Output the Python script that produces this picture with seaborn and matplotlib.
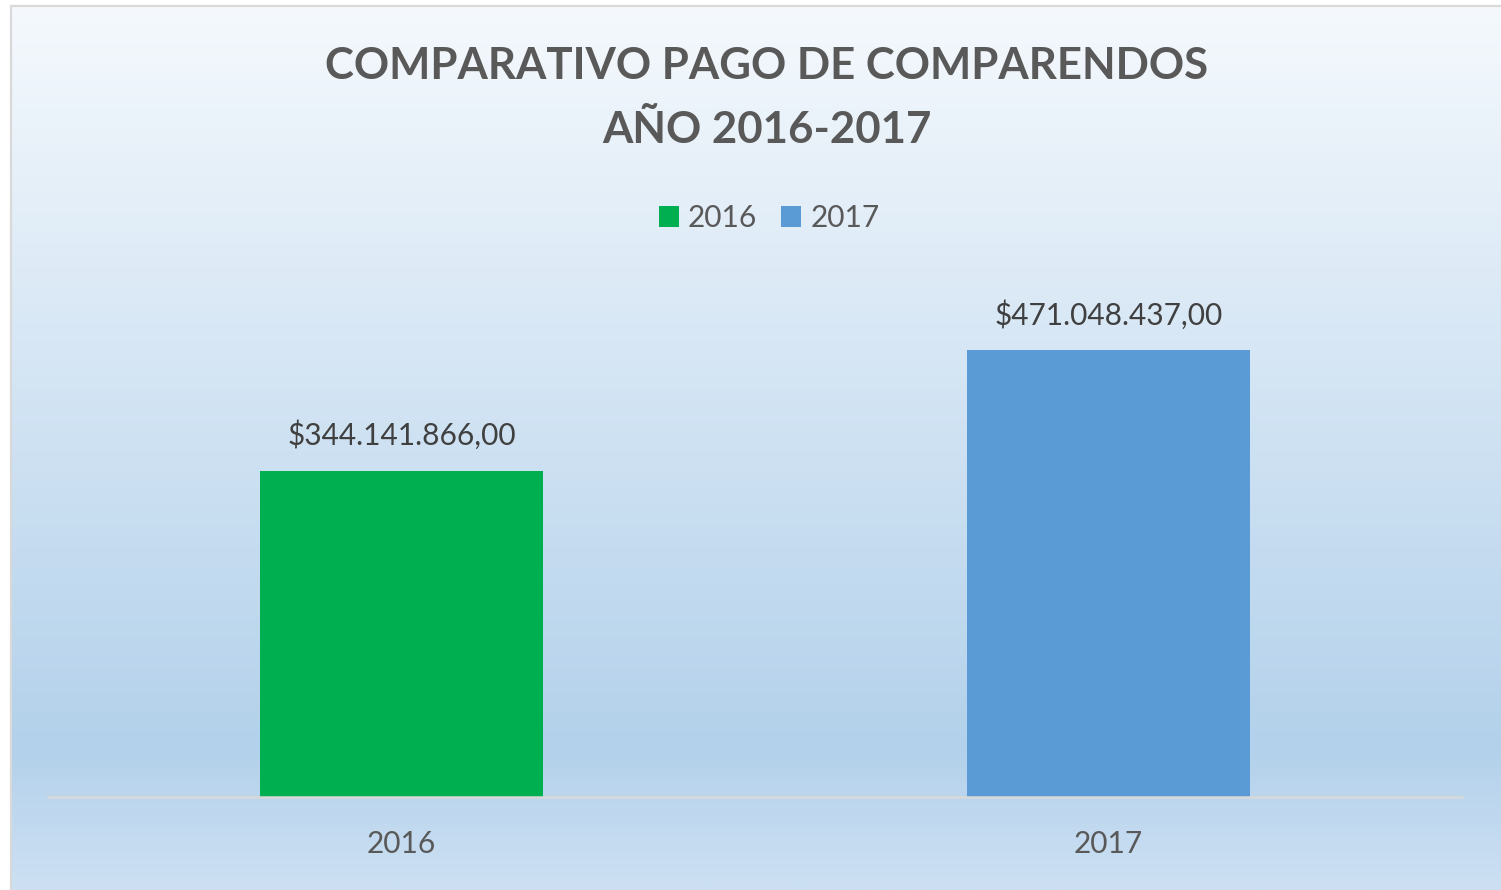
import numpy as np
import pandas as pd
import matplotlib
matplotlib.use("Agg")
import matplotlib.pyplot as plt
from matplotlib.colors import LinearSegmentedColormap
from matplotlib.patches import Rectangle, Patch
import seaborn as sns

# Data
years = ["2016", "2017"]
payments = [344141866.00, 471048437.00]
bar_colors = ["#00B050", "#5B9BD5"]
title_lines = ["COMPARATIVO PAGO DE COMPARENDOS", "AÑO 2016-2017"]


def peso_format(v):
    s = f"{v:,.2f}"  # 344,141,866.00
    s = s.replace(",", "X").replace(".", ",").replace("X", ".")
    return "$" + s


sns.set_theme(style="white")
plt.rcParams["font.family"] = ["Lato", "DejaVu Sans"]

W, H = 1501, 890
fig = plt.figure(figsize=(W / 100, H / 100), dpi=100)
fig.patch.set_facecolor("white")

# Background gradient for the chart area
bg = fig.add_axes([0, 0, 1, 1], zorder=-10)
cmap = LinearSegmentedColormap.from_list(
    "bg",
    [(0.0, "#f5f9fd"), (745 / 885, "#b3d1eb"), (1.0, "#cde0f3")],
)
grad = np.linspace(0, 1, 512).reshape(-1, 1)
bg.imshow(grad, aspect="auto", cmap=cmap,
          extent=[10.5 / W, 1.0, 0, (H - 5.5) / H], origin="upper")
bg.set_xlim(0, 1)
bg.set_ylim(0, 1)
bg.axis("off")
bg.add_patch(Rectangle((10.5 / W, -0.5), 2.0, 1.5 - 5.5 / H, transform=bg.transAxes,
                       fill=False, edgecolor="#d9d9d9", linewidth=1.6, clip_on=False))

# Plot area
left, right = 48 / W, 1462 / W
bottom = (H - 797) / H
top = (H - 323) / H
ax = fig.add_axes([left, bottom, right - left, top - bottom])
ax.patch.set_alpha(0)

df = pd.DataFrame({"year": years, "value": payments})
sns.barplot(data=df, x="year", y="value", hue="year", palette=bar_colors,
            width=0.4, dodge=False, legend=False, saturation=1,
            linewidth=0, edgecolor="none", ax=ax)

ax.set_ylim(0, 500e6)
ax.set_xlim(-0.5, 1.5)
ax.set_yticks([])
ax.set_xlabel("")
ax.set_ylabel("")
for s in ["top", "right", "left"]:
    ax.spines[s].set_visible(False)
ax.spines["bottom"].set_color("#d9d9d9")
ax.spines["bottom"].set_linewidth(1.8)
ax.tick_params(axis="x", length=0, pad=24, labelsize=21.5, labelcolor="#595959")

for i, v in enumerate(payments):
    ax.annotate(peso_format(v), (i, v), xytext=(0, 25.5), textcoords="offset points",
                ha="center", va="center", fontsize=21.5, color="#404040")

# Title
cx = 767 / W
fig.text(cx, 1 - 66 / H, title_lines[0], ha="center", va="center",
         fontsize=31.5, fontweight="bold", color="#595959")
fig.text(cx, 1 - 130 / H, title_lines[1], ha="center", va="center",
         fontsize=31.5, fontweight="bold", color="#595959")

# Legend
handles = [Patch(facecolor=c, edgecolor="none", label=y) for y, c in zip(years, bar_colors)]
fig.legend(handles=handles, loc="center", bbox_to_anchor=(cx + 2 / W, 1 - 218 / H), ncol=2,
           frameon=False, fontsize=21.5, labelcolor="#595959", handlelength=0.68,
           handleheight=0.68, handletextpad=0.3, columnspacing=0.8)

fig.savefig("out.png", dpi=100)
